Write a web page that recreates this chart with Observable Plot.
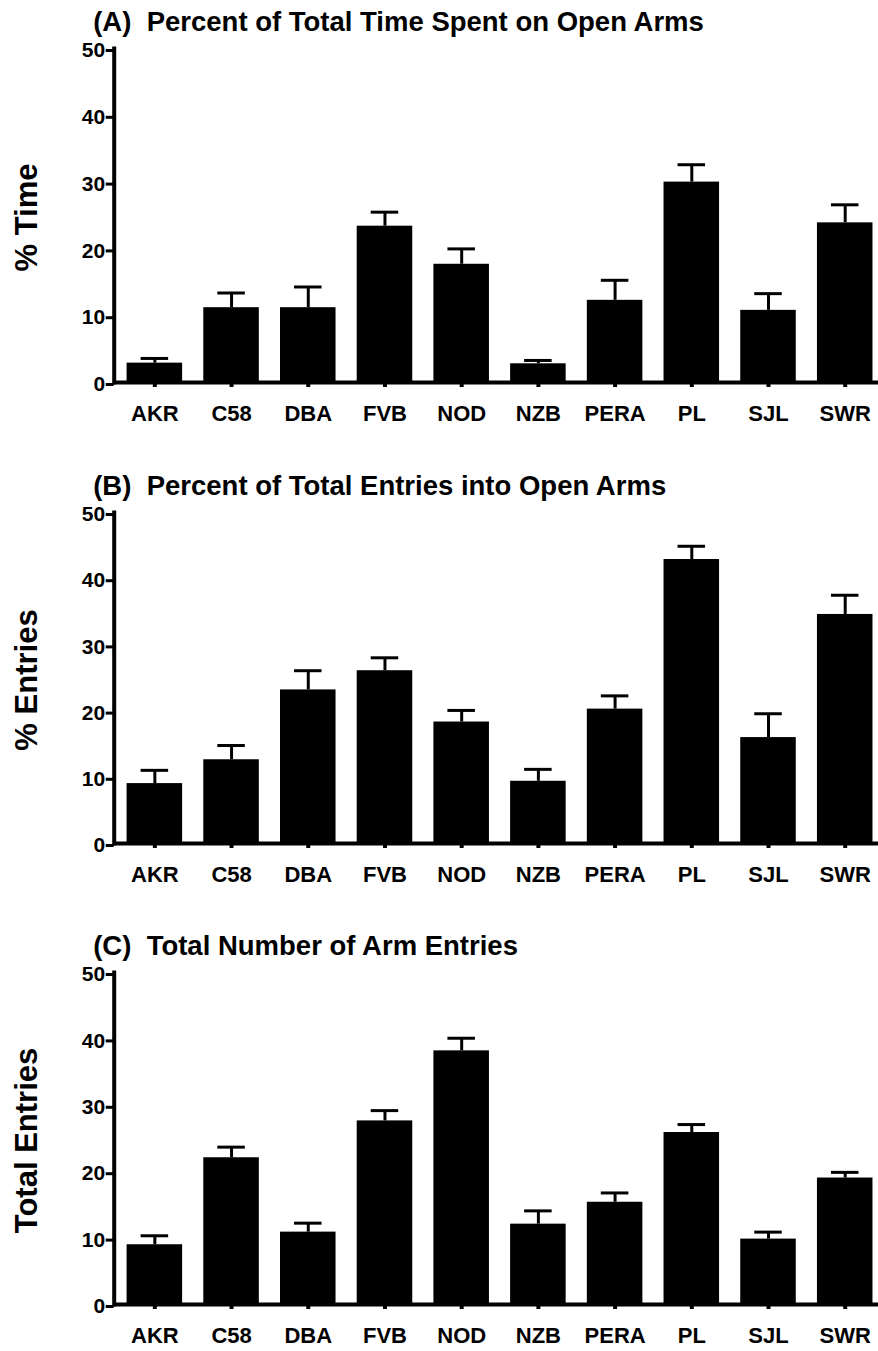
<!DOCTYPE html>
<html>
<head>
<meta charset="utf-8">
<script src="https://cdn.jsdelivr.net/npm/d3@7"></script>
<script src="https://cdn.jsdelivr.net/npm/@observablehq/plot@0.6"></script>
<style>
  html, body { margin: 0; padding: 0; background: #fff; }
  #chart svg { display: block; }
</style>
</head>
<body>
<div id="chart"></div>
<script>
// ---- data ----
const strains = ["AKR", "C58", "DBA", "FVB", "NOD", "NZB", "PERA", "PL", "SJL", "SWR"];
const yTicks = [0, 10, 20, 30, 40, 50];

const titleA = "(A)  Percent of Total Time Spent on Open Arms";
const labelA = "% Time";
const timeMean = [2.9, 11.2, 11.2, 23.4, 17.7, 2.8, 12.3, 30.0, 10.8, 23.9];
const timeErr  = [0.7, 2.2, 3.1, 2.1, 2.3, 0.5, 3.0, 2.6, 2.5, 2.7];

const titleB = "(B)  Percent of Total Entries into Open Arms";
const labelB = "% Entries";
const entriesMean = [9.05, 12.65, 23.2, 26.1, 18.35, 9.4, 20.3, 42.9, 16.0, 34.6];
const entriesErr  = [2.0, 2.15, 2.9, 1.95, 1.75, 1.8, 2.0, 2.0, 3.6, 2.9];

const titleC = "(C)  Total Number of Arm Entries";
const labelC = "Total Entries";
const totalMean = [9.0, 22.1, 10.9, 27.65, 38.2, 12.1, 15.4, 25.9, 9.85, 19.05];
const totalErr  = [1.35, 1.6, 1.35, 1.55, 1.9, 2.0, 1.4, 1.2, 1.05, 0.85];

// ---- drawing ----
const FONT = "'Liberation Sans', Arial, Helvetica, sans-serif";

function panel(title, ylabel, means, errs, height, marginTop, marginBottom) {
  const rows = strains.map((s, i) => ({strain: s, mean: means[i], upper: means[i] + errs[i]}));
  return Plot.plot({
    width: 878,
    height,
    marginLeft: 113.7,
    marginRight: 0,
    marginTop,
    marginBottom,
    style: {fontFamily: FONT, fontWeight: "bold", color: "#000", background: "#fff", overflow: "visible"},
    x: {domain: strains, paddingInner: 0.276, paddingOuter: 0.12, align: 0.7, round: false, label: null},
    y: {domain: [0, 50], label: null},
    marks: [
      Plot.barY(rows, {x: "strain", y: "mean", fill: "#000"}),
      Plot.ruleX(rows, {x: "strain", y1: "mean", y2: "upper", stroke: "#000", strokeWidth: 3}),
      Plot.tickY(rows, {x: "strain", y: "upper", stroke: "#000", strokeWidth: 3, insetLeft: 14, insetRight: 14}),
      Plot.ruleY([0], {stroke: "#000", strokeWidth: 4}),
      Plot.frame({anchor: "left", stroke: "#000", strokeWidth: 4}),
      Plot.axisY({ticks: yTicks, tickFormat: d => String(d), tickSize: 8, tickPadding: 1, strokeWidth: 3, fontSize: 21, dy: 2, label: null}),
      Plot.axisX({tickSize: 5, tickPadding: 18, strokeWidth: 4, fontSize: 22, label: null}),
      Plot.text([title], {text: d => d, frameAnchor: "top-left", dx: -21, dy: -26.5, fontSize: 27.5, fontWeight: "bold", textAnchor: "start", lineAnchor: "middle", fill: "#000"}),
      Plot.text([ylabel], {text: d => d, frameAnchor: "left", dx: -86.7, dy: 2, rotate: -90, fontSize: 31, fontWeight: "bold", textAnchor: "middle", lineAnchor: "middle", fill: "#000"})
    ]
  });
}

const chart = document.getElementById("chart");
chart.append(panel(titleA, labelA, timeMean, timeErr, 463, 48, 81));
chart.append(panel(titleB, labelB, entriesMean, entriesErr, 461, 49, 81));
chart.append(panel(titleC, labelC, totalMean, totalErr, 427, 48, 47));
</script>
</body>
</html>
